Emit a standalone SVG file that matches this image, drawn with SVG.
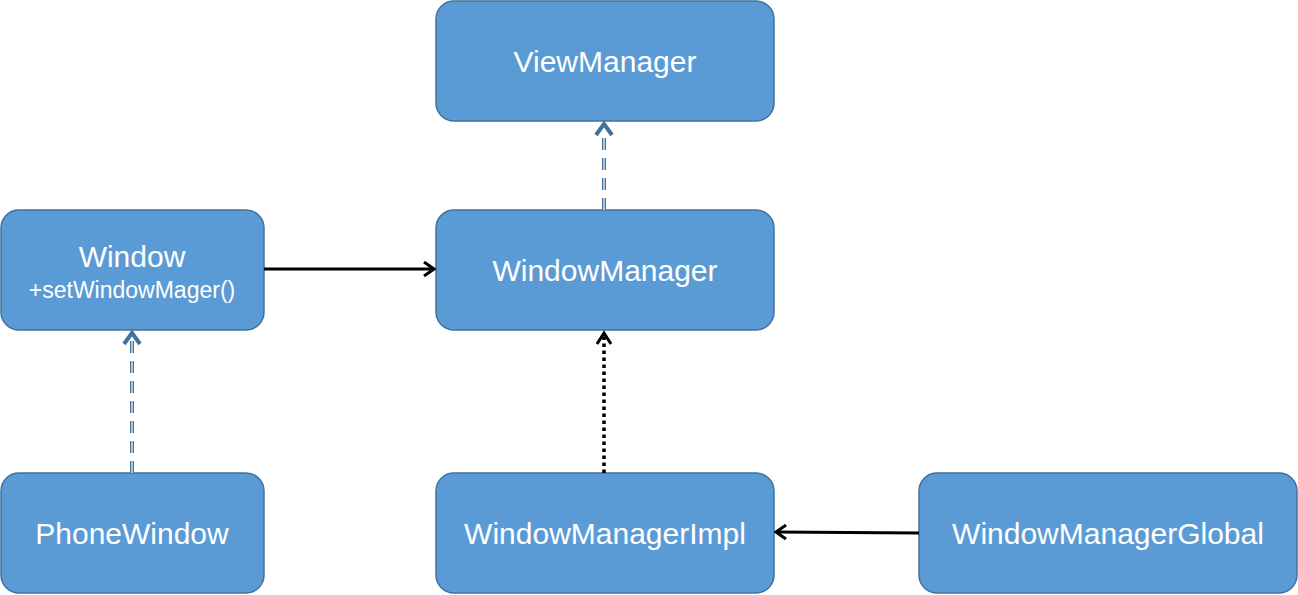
<svg xmlns="http://www.w3.org/2000/svg" width="1298" height="595" viewBox="0 0 1298 595">
<style>
.box{fill:#5b9bd5;stroke:#41719c;stroke-width:1.5}
.t{font-family:"Liberation Sans",Arial,sans-serif;fill:#fff;text-anchor:middle}
.big{font-size:30px}
.small{font-size:23px}
.solid{stroke:#000;stroke-width:3;fill:none}
.dot{stroke:#000;stroke-width:3.5;fill:none;stroke-dasharray:3.5 3.5}
.dblo{stroke:#41719c;stroke-width:4;fill:none;stroke-dasharray:12 8}
.dbli{stroke:#fff;stroke-width:1.2;fill:none;stroke-dasharray:12 8}
</style>
<defs>
<marker id="ab" markerWidth="14" markerHeight="16" refX="12" refY="8" orient="auto" markerUnits="userSpaceOnUse">
<path d="M2,1 L12,8 L2,15" fill="none" stroke="#000" stroke-width="3"/>
</marker>
</defs>
<g id="ViewManager"><rect class="box" x="436" y="1" width="338" height="120" rx="18"/><text class="t big" x="605" y="72">ViewManager</text></g>
<g id="WindowManager"><rect class="box" x="436" y="210" width="338" height="120" rx="18"/><text class="t big" x="605" y="281">WindowManager</text></g>
<g id="Window"><rect class="box" x="1" y="210" width="263" height="120" rx="18"/><text class="t big" x="132" y="267">Window</text><text class="t small" x="132" y="298">+setWindowMager()</text></g>
<g id="PhoneWindow"><rect class="box" x="1" y="473" width="263" height="120" rx="18"/><text class="t big" x="132" y="544">PhoneWindow</text></g>
<g id="WindowManagerImpl"><rect class="box" x="436" y="473" width="338" height="120" rx="18"/><text class="t big" x="605" y="544">WindowManagerImpl</text></g>
<g id="WindowManagerGlobal"><rect class="box" x="919" y="473" width="378" height="120" rx="18"/><text class="t big" x="1108" y="544">WindowManagerGlobal</text></g>
<g id="connectors">
<line class="solid" x1="264" y1="269" x2="434" y2="269" marker-end="url(#ab)"/>
<line class="solid" x1="919" y1="533" x2="776" y2="532" marker-end="url(#ab)"/>
<line class="dot" x1="604" y1="473" x2="604" y2="336"/>
<path d="M597,344 L604,333 L611,344" fill="none" stroke="#000" stroke-width="3"/>
<line class="dblo" x1="604" y1="210" x2="604" y2="130"/>
<line class="dbli" x1="604" y1="210" x2="604" y2="130"/>
<path d="M596,135 L604,124 L612,135" fill="none" stroke="#41719c" stroke-width="4"/>
<line class="dblo" x1="132" y1="473" x2="132" y2="339"/>
<line class="dbli" x1="132" y1="473" x2="132" y2="339"/>
<path d="M124,344 L132,333 L140,344" fill="none" stroke="#41719c" stroke-width="4"/>
</g>
</svg>
